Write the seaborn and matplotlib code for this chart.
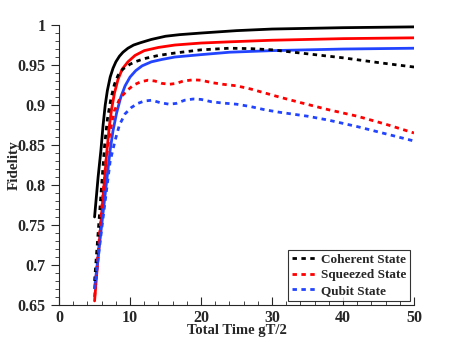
import pandas as pd
import matplotlib
matplotlib.use("Agg")
import matplotlib.pyplot as plt
import seaborn as sns
from matplotlib.ticker import MultipleLocator, FormatStrFormatter

# solid curves (no legend entry)
t_coh_solid = [5, 5.5, 5.9, 6.2, 6.5, 6.8, 7.2, 7.6, 8, 8.5, 9, 9.7, 10.5, 11.5, 13, 15, 17, 20, 25, 30, 40, 50]
f_coh_solid = [0.76, 0.81, 0.844, 0.875, 0.9, 0.918, 0.935, 0.946, 0.954, 0.961, 0.966, 0.971, 0.975, 0.978, 0.982, 0.986, 0.988, 0.99, 0.993, 0.995, 0.9967, 0.9977]

t_sq_solid = [5, 5.5, 6, 6.75, 7.1, 7.4, 7.8, 8.3, 8.9, 9.7, 10.7, 12, 14, 16.3, 20, 24, 30, 40, 50]
f_sq_solid = [0.655, 0.71, 0.765, 0.844, 0.875, 0.895, 0.915, 0.932, 0.945, 0.954, 0.962, 0.968, 0.972, 0.975, 0.9775, 0.979, 0.981, 0.983, 0.984]

t_qb_solid = [5, 6, 7.2, 7.6, 8.1, 8.7, 9.3, 10, 10.8, 11.7, 13, 14.5, 16.3, 20, 24, 30, 40, 50]
f_qb_solid = [0.671, 0.75, 0.844, 0.868, 0.89, 0.91, 0.924, 0.935, 0.943, 0.949, 0.954, 0.957, 0.96, 0.963, 0.966, 0.968, 0.970, 0.971]

# dashed curves (legend)
t_coh_dash = [5, 5.5, 6, 6.4, 6.8, 7.3, 7.8, 8.3, 9, 10, 10.7, 12, 14, 16.3, 20, 24, 27, 30, 35, 40, 45, 50]
f_coh_dash = [0.68, 0.74, 0.8, 0.848, 0.882, 0.908, 0.926, 0.937, 0.945, 0.951, 0.954, 0.958, 0.962, 0.965, 0.969, 0.971, 0.9705, 0.969, 0.964, 0.959, 0.953, 0.9475]

t_sq_dash = [5, 5.5, 6, 6.6, 7.2, 7.8, 8.6, 9.7, 10.5, 11.5, 12.5, 13.5, 14.5, 15.6, 16.5, 17.5, 18.9, 20, 21.5, 23, 25, 27, 29, 31, 34, 38, 42, 46, 50]
f_sq_dash = [0.66, 0.715, 0.77, 0.83, 0.868, 0.893, 0.909, 0.919, 0.925, 0.929, 0.931, 0.93, 0.927, 0.926, 0.927, 0.93, 0.9315, 0.931, 0.928, 0.926, 0.924, 0.92, 0.915, 0.91, 0.903, 0.894, 0.886, 0.876, 0.865]

t_qb_dash = [5, 6, 7.2, 7.9, 8.5, 9.3, 10.2, 11.1, 12, 13.1, 14.2, 15.5, 16.5, 17.7, 18.9, 20, 21.5, 23, 25, 27, 29, 31, 35, 38, 42, 46, 50]
f_qb_dash = [0.67, 0.745, 0.83, 0.856, 0.875, 0.889, 0.897, 0.902, 0.905, 0.906, 0.903, 0.901, 0.902, 0.906, 0.9075, 0.907, 0.904, 0.9025, 0.901, 0.898, 0.894, 0.891, 0.886, 0.881, 0.873, 0.864, 0.855]

colors = {"coh": "black", "sq": "#ff0000", "qb": "#2244ff"}

sns.set_style("ticks")
plt.rcParams["font.family"] = ["Liberation Serif", "DejaVu Serif"]
plt.rcParams["font.weight"] = "bold"

fig = plt.figure(figsize=(4.58, 3.43), dpi=100)
ax = fig.add_axes([0.129, 0.111, 0.775, 0.816])

lw = 2.0
sns.lineplot(x=t_coh_solid, y=f_coh_solid, color=colors["coh"], lw=lw, ax=ax)
sns.lineplot(x=t_sq_solid, y=f_sq_solid, color=colors["sq"], lw=lw, ax=ax)
sns.lineplot(x=t_qb_solid, y=f_qb_solid, color=colors["qb"], lw=lw, ax=ax)

dash = (1.6, 1.6)
sns.lineplot(x=t_coh_dash, y=f_coh_dash, color=colors["coh"], lw=lw, ax=ax, label="Coherent State")
sns.lineplot(x=t_sq_dash, y=f_sq_dash, color=colors["sq"], lw=lw, ax=ax, label="Squeezed State")
sns.lineplot(x=t_qb_dash, y=f_qb_dash, color=colors["qb"], lw=lw, ax=ax, label="Qubit State")
for ln in ax.lines[3:]:
    ln.set_linestyle((0, dash))

ax.set_xlim(0, 50)
ax.set_ylim(0.65, 1.0)
ax.xaxis.set_major_locator(MultipleLocator(10))
ax.xaxis.set_minor_locator(MultipleLocator(2))
ax.yaxis.set_major_locator(MultipleLocator(0.05))
ax.yaxis.set_minor_locator(MultipleLocator(0.01))
ax.yaxis.set_major_formatter(FormatStrFormatter("%g"))

sns.despine(ax=ax)
ax.tick_params(axis="y", which="major", direction="out", length=6, width=0.8, labelsize=11.5)
ax.tick_params(axis="y", which="minor", direction="out", length=3, width=0.6)
ax.tick_params(axis="x", which="major", direction="in", length=6, width=0.8, labelsize=11.5)
ax.tick_params(axis="x", which="minor", direction="in", length=3, width=0.6)
for lab in ax.get_xticklabels() + ax.get_yticklabels():
    lab.set_fontweight("bold")
for s in ax.spines.values():
    s.set_linewidth(0.8)

ax.set_xlabel("Total Time gT/2", fontsize=10.5, fontweight="bold", labelpad=-1)
ax.set_ylabel("Fidelity", fontsize=11, fontweight="bold", labelpad=-2)

leg = ax.legend(loc="lower right", fontsize=9.5, frameon=True, fancybox=False,
                handlelength=2.0, handletextpad=0.2, borderpad=0.3, labelspacing=0.25,
                borderaxespad=0.3)
leg.get_frame().set_edgecolor("black")
leg.get_frame().set_linewidth(0.8)
for txt in leg.get_texts():
    txt.set_fontweight("bold")

fig.savefig("out.png", dpi=100)
